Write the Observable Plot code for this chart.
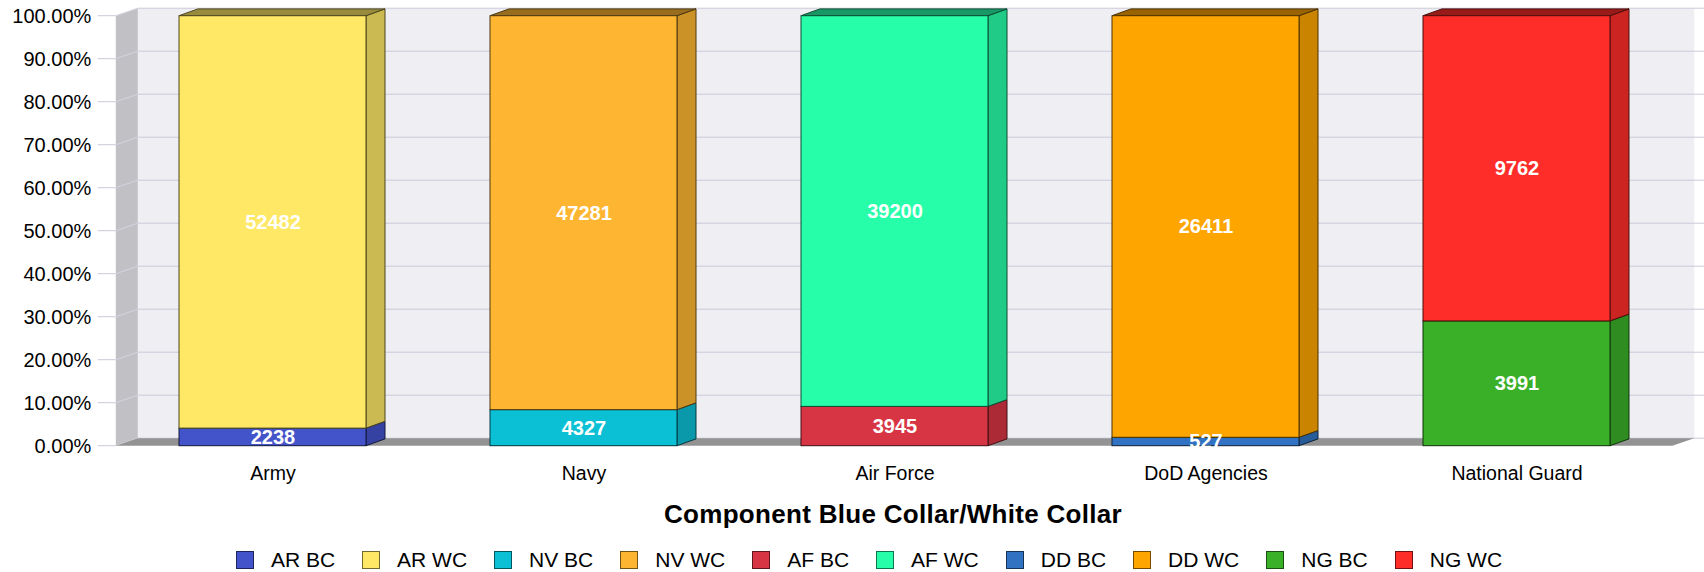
<!DOCTYPE html>
<html><head><meta charset="utf-8">
<script src="https://cdn.jsdelivr.net/npm/d3@7"></script>
<script src="https://cdn.jsdelivr.net/npm/@observablehq/plot@0.6"></script>
<style>
body{margin:0;background:#fff;font-family:"Liberation Sans",Arial,sans-serif;width:1704px;height:572px;position:relative;overflow:hidden;color:#000}
#title{position:absolute;top:501px;left:107px;width:1572px;text-align:center;font-weight:bold;font-size:26px;line-height:26px;letter-spacing:0.3px}
#legend{position:absolute;top:551px;left:100px;width:1538px;height:18px;display:flex;justify-content:center;gap:27px}
.item{display:flex;align-items:center;gap:17px;font-size:21px;line-height:18px;white-space:nowrap}
.sw{width:16px;height:16px;border:1px solid rgba(0,0,0,.55)}
</style></head><body>
<div id="chart"></div>
<div id="title">Component Blue Collar/White Collar</div>
<div id="legend"></div>
<script>
const categories = ["Army", "Navy", "Air Force", "DoD Agencies", "National Guard"];
const seriesBC = ["AR BC", "NV BC", "AF BC", "DD BC", "NG BC"];
const seriesWC = ["AR WC", "NV WC", "AF WC", "DD WC", "NG WC"];
const valuesBC = [2238, 4327, 3945, 527, 3991];
const valuesWC = [52482, 47281, 39200, 26411, 9762];
const legendOrder = ["AR BC", "AR WC", "NV BC", "NV WC", "AF BC", "AF WC", "DD BC", "DD WC", "NG BC", "NG WC"];
const legendColors = ["#4353c9", "#fee865", "#0bbfd4", "#feb632", "#d73444", "#27fea9", "#3173c2", "#fea500", "#3aaf28", "#fe2d29"];
const yTicks = [0, 0.1, 0.2, 0.3, 0.4, 0.5, 0.6, 0.7, 0.8, 0.9, 1.0];

const rows = [];
categories.forEach((c, i) => {
  rows.push({category: c, series: seriesBC[i], value: valuesBC[i]});
  rows.push({category: c, series: seriesWC[i], value: valuesWC[i]});
});

const WDX = 22, WDY = -7.5;   // wall depth
const BDX = 19, BDY = -6.8;   // bar depth
const shade = (c, k) => { const r = d3.rgb(c); return d3.rgb(r.r * k, r.g * k, r.b * k).formatHex(); };

function walls(index, scales, values, dims) {
  const {width, marginLeft: ml, marginRight: mr} = dims;
  const y = scales.y;
  const x0 = ml, x1 = width - mr, y0 = y(0), y1 = y(1);
  const g = d3.create("svg:g");
  g.append("rect").attr("x", x0 + WDX).attr("y", y1 + WDY).attr("width", x1 - x0).attr("height", y0 - y1).attr("fill", "#eeeef3");
  for (const t of yTicks) {
    g.append("line").attr("x1", x0 + WDX).attr("x2", width).attr("y1", y(t) + WDY).attr("y2", y(t) + WDY).attr("stroke", "#cacada");
  }
  g.append("path").attr("d", `M${x0},${y1}L${x0 + WDX},${y1 + WDY}L${x0 + WDX},${y0 + WDY}L${x0},${y0}Z`).attr("fill", "#c1c1c5");
  for (const t of yTicks) {
    g.append("line").attr("x1", x0).attr("x2", x0 + WDX).attr("y1", y(t)).attr("y2", y(t) + WDY).attr("stroke", "#d4d4e0");
    g.append("line").attr("x1", x0 - 18).attr("x2", x0).attr("y1", y(t)).attr("y2", y(t)).attr("stroke", "#cacada");
  }
  g.append("path").attr("d", `M${x0},${y0}L${x0 + WDX},${y0 + WDY}L${x1 + WDX},${y0 + WDY}L${x1},${y0}Z`).attr("fill", "#939393");
  return g.node();
}

function bars3d(index, scales, values, dims, context, next) {
  const front = next(index, scales, values, dims, context);
  let bw = scales.x.bandwidth;
  if (typeof bw === "function") bw = bw();
  if (!bw) {
    const step = (dims.width - dims.marginLeft - dims.marginRight) / categories.length;
    bw = step * 0.6;
  }
  const X = values.x, Y1 = values.y1, Y2 = values.y2, F = values.fill;
  const topY = new Map();
  for (const i of index) {
    const t = Math.min(Y1[i], Y2[i]);
    if (!topY.has(X[i]) || t < topY.get(X[i])) topY.set(X[i], t);
  }
  const g = d3.create("svg:g");
  for (const i of index) {
    const x = X[i], yt = Math.min(Y1[i], Y2[i]), yb = Math.max(Y1[i], Y2[i]);
    const c = F[i];
    g.append("path")
      .attr("d", `M${x + bw},${yb}L${x + bw + BDX},${yb + BDY}L${x + bw + BDX},${yt + BDY}L${x + bw},${yt}Z`)
      .attr("fill", shade(c, 0.8)).attr("stroke", shade(c, 0.3)).attr("stroke-width", 1).attr("stroke-linejoin", "round");
    if (yt === topY.get(x)) {
      g.append("path")
        .attr("d", `M${x},${yt}L${x + BDX},${yt + BDY}L${x + bw + BDX},${yt + BDY}L${x + bw},${yt}Z`)
        .attr("fill", shade(c, 0.6)).attr("stroke", shade(c, 0.3)).attr("stroke-width", 1).attr("stroke-linejoin", "round");
    }
  }
  d3.select(front).selectAll("rect").each(function () {
    const f = this.getAttribute("fill");
    if (f) this.setAttribute("stroke", shade(f, 0.3));
    this.setAttribute("stroke-width", 1);
  });
  g.append(() => front);
  return g.node();
}

const chart = Plot.plot({
  width: 1704,
  height: 490,
  marginLeft: 115.8,
  marginRight: 31.7,
  marginTop: 15.7,
  marginBottom: 44.3,
  style: {fontFamily: '"Liberation Sans", Arial, sans-serif', background: "transparent", color: "#000", overflow: "visible"},
  x: {domain: categories, paddingInner: 0.4, paddingOuter: 0.2, label: null},
  y: {domain: [0, 1], label: null},
  color: {domain: legendOrder, range: legendColors},
  marks: [
    walls,
    Plot.barY(rows, Plot.stackY({offset: "normalize", x: "category", y: "value", fill: "series", render: bars3d})),
    Plot.text(rows, Plot.stackY({offset: "normalize", x: "category", y: "value", text: d => String(d.value), fill: "white", fontWeight: "bold", fontSize: 20})),
    Plot.axisY({ticks: yTicks, tickSize: 0, tickPadding: 25, fontSize: 20, tickFormat: d => (d * 100).toFixed(2) + "%", label: null}),
    Plot.axisX({tickSize: 0, tickPadding: 19.5, fontSize: 19.5, label: null})
  ]
});
document.getElementById("chart").appendChild(chart);

const legend = document.getElementById("legend");
legendOrder.forEach((s, i) => {
  const item = document.createElement("div");
  item.className = "item";
  const sw = document.createElement("div");
  sw.className = "sw";
  sw.style.background = legendColors[i];
  const lab = document.createElement("span");
  lab.textContent = s;
  item.appendChild(sw);
  item.appendChild(lab);
  legend.appendChild(item);
});
</script>
</body></html>
